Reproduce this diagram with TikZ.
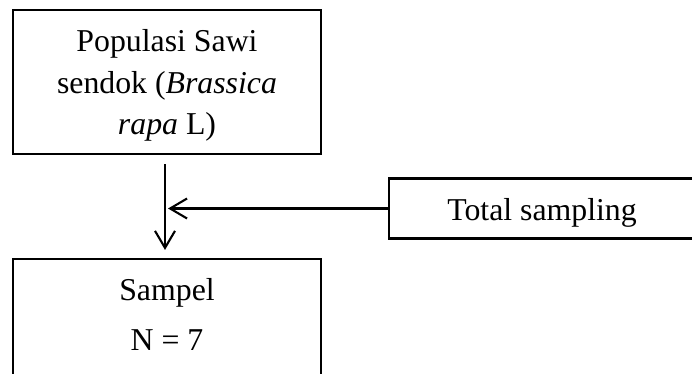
\documentclass[tikz,border=0pt]{standalone}
\usepackage{fontspec}
\setmainfont{Liberation Serif}
\usetikzlibrary{arrows.meta}
\begin{document}
\begin{tikzpicture}[x=1pt,y=-1pt,
  frame/.style={draw, line width=2.1pt, rectangle, inner sep=0pt},
  txt/.style={anchor=base, inner sep=0pt, font=\fontsize{31.8}{38}\selectfont},
  link/.style={line width=2.1pt, -{Straight Barb[length=17pt,width=20pt]}}]
\useasboundingbox (0,0) rectangle (692,374);

% boxes
\node[frame, minimum width=308pt, minimum height=144pt] (pop) at (167,82) {};
\node[frame, minimum width=308pt, minimum height=170pt] (samp) at (167,344) {};
\node[frame, minimum width=306pt, minimum height=60pt] (tech) at (542,208.5) {};

% box texts
\node[txt] (pop1) at (167,52) {Populasi Sawi};
\node[txt] (pop2) at (167,93.5) {sendok (\textit{Brassica}};
\node[txt] (pop3) at (167,135) {\textit{rapa} L)};
\node[txt] (samp1) at (167,300) {Sampel};
\node[txt] (samp2) at (167,350) {N = 7};
\node[txt] (tech1) at (542,220) {Total sampling};

% connectors
\coordinate (trunk) at (165,208.5);
\draw[link, shorten <=9pt, shorten >=8pt] (pop.south -| trunk) -- (samp.north -| trunk);
\draw[link, shorten >=3pt] (tech.west) -- (tech.west -| trunk);
\end{tikzpicture}
\end{document}
